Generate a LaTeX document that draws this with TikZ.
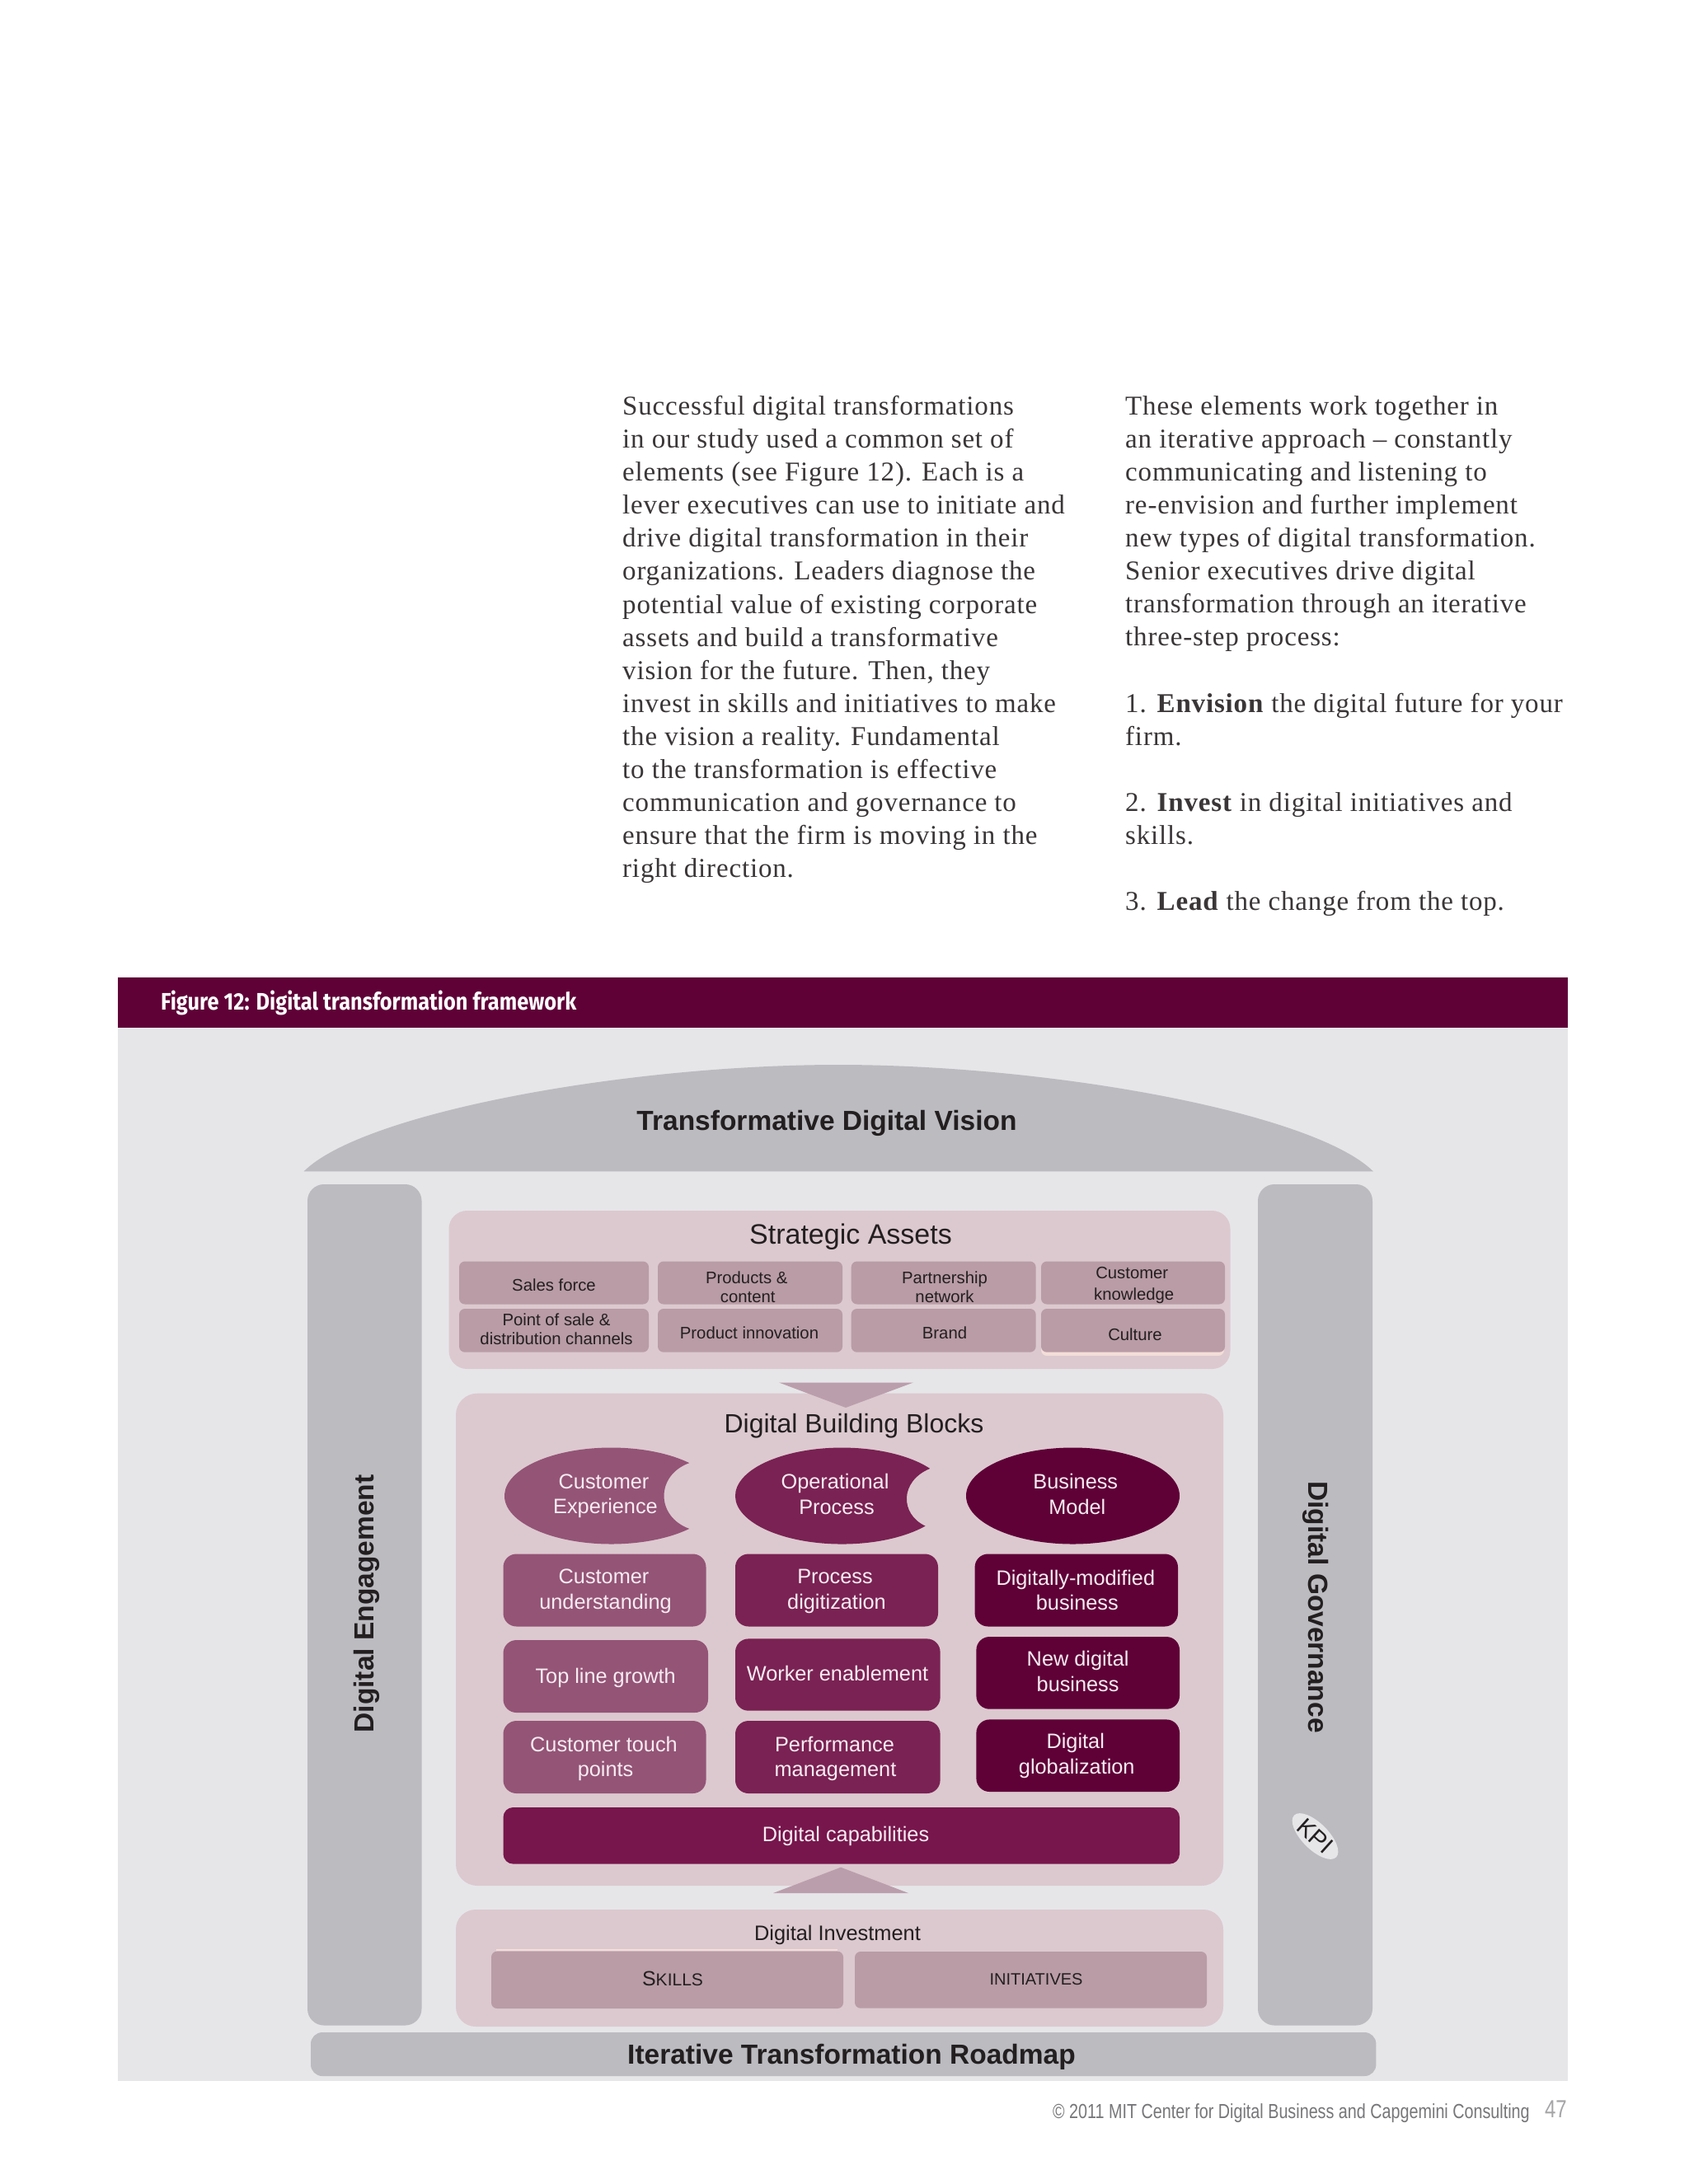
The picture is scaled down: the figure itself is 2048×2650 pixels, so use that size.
\documentclass[tikz,border=0pt]{standalone}
\usepackage{fontspec}
\setmainfont{Liberation Sans}
\newfontfamily\bodyf[LetterSpace=2.5]{Liberation Serif}
\newfontfamily\headf[FakeStretch=0.875]{Fira Sans}
\newfontfamily\footf[FakeStretch=0.8]{Liberation Sans}
\definecolor{hdr}{HTML}{5F0037}
\definecolor{bgg}{HTML}{E6E6E9}
\definecolor{bar}{HTML}{BBBBC0}
\definecolor{panel}{HTML}{DCC9CF}
\definecolor{sbox}{HTML}{B99CA6}
\definecolor{arrowc}{HTML}{BB9EAB}
\definecolor{cone}{HTML}{945476}
\definecolor{ctwo}{HTML}{7A2253}
\definecolor{cthree}{HTML}{5F0037}
\definecolor{ccap}{HTML}{77164C}
\definecolor{dk}{HTML}{231F20}
\definecolor{wt}{HTML}{F7ECF2}
\definecolor{bodyc}{HTML}{3A3638}
\definecolor{glow}{HTML}{F3DED9}
\definecolor{footc}{HTML}{77777A}
\definecolor{pagec}{HTML}{A5A5A8}
\newcommand{\sz}[2]{\fontsize{#1}{#2}\selectfont}
\newcommand{\nudge}[1]{\hspace*{#1pt}}
\tikzset{
  txt/.style={inner sep=0pt,align=center,text=dk},
  title/.style={txt,font=\bfseries\sz{33.5}{40}},
  smalltxt/.style={txt,font=\sz{20.3}{23}},
  blocktxt/.style={txt,text=wt,font=\sz{25.3}{30.5}},
  headtxt/.style={txt,font=\sz{32}{36}},
  para/.style={inner sep=0pt,align=left,anchor=north west,text=bodyc,font=\bodyf\sz{33}{40.1}},
  rb/.style={rounded corners=#1},
}
\begin{document}
\begin{tikzpicture}[x=1pt,y=-1pt]
\useasboundingbox (0,0) rectangle (2048,2650);
\fill[white] (0,0) rectangle (2048,2650);
% page text
\node[para] (colA) at (755,480) {Successful digital transformations\\
in our study used a common set of\\
elements (see Figure 12). Each is a\\
lever executives can use to initiate and\\
drive digital transformation in their\\
organizations. Leaders diagnose the\\
potential value of existing corporate\\
assets and build a transformative\\
vision for the future. Then, they\\
invest in skills and initiatives to make\\
the vision a reality. Fundamental\\
to the transformation is effective\\
communication and governance to\\
ensure that the firm is moving in the\\
right direction.};
\node[para] (colB) at (1365,480) {These elements work together in\\
an iterative approach – constantly\\
communicating and listening to\\
re-envision and further implement\\
new types of digital transformation.\\
Senior executives drive digital\\
transformation through an iterative\\
three-step process:\\
\mbox{}\\
1. \textbf{Envision} the digital future for your\\
firm.\\
\mbox{}\\
2. \textbf{Invest} in digital initiatives and\\
skills.\\
\mbox{}\\
3. \textbf{Lead} the change from the top.};
% figure frame
\fill[bgg] (143,1247) rectangle (1902,2525);
\fill[hdr] (143,1186) rectangle (1902,1247);
\node[inner sep=0pt,anchor=west,text=white,font=\headf\bfseries\sz{29}{30}] (figtitle) at (195,1217) {Figure 12: Digital transformation framework};
% dome
\fill[bar] (368.5,1421.4) .. controls (440,1350) and (760,1292) .. (1017,1292)
  .. controls (1274,1292) and (1594,1350) .. (1666,1421.4) -- cycle;
\node[title] (vision) at (1003,1363) {Transformative Digital Vision};
% side bars
\fill[bar,rb=20pt] (373,1437) rectangle (511.5,2457.5);
\fill[bar,rb=20pt] (1526,1437) rectangle (1665,2457.5);
\node[title,rotate=90] (engage) at (445,1946) {Digital Engagement};
\node[title,rotate=-90] (govern) at (1596,1950) {Digital Governance};
\fill[bgg,rotate around={-45:(1595.5,2228)}] (1595.5,2228) ellipse [x radius=36pt,y radius=16pt];
\node[txt,rotate=-42,font=\sz{29}{30}] (kpi) at (1595.5,2228) {KPI};
% strategic assets
\fill[panel,rb=22pt] (544.5,1469) rectangle (1492.5,1661);
\node[txt,font=\sz{34}{40}] (sa) at (1032,1501) {Strategic Assets};
\fill[sbox,rb=7pt] (557,1530.5) rectangle (787,1582.5);
\fill[sbox,rb=7pt] (798,1530.5) rectangle (1022,1582.5);
\fill[sbox,rb=7pt] (1032.7,1530.5) rectangle (1256.6,1582.5);
\fill[sbox,rb=7pt] (1263,1530.5) rectangle (1486,1582.5);
\fill[sbox,rb=7pt] (557,1588) rectangle (787,1640.7);
\fill[sbox,rb=7pt] (798,1588) rectangle (1022,1640.7);
\fill[sbox,rb=7pt] (1032.7,1588) rectangle (1256.6,1640.7);
\fill[glow,rb=7pt] (1263,1600) rectangle (1485,1645) ;
\fill[sbox,rb=7pt] (1263,1588) rectangle (1486,1640.7);
\node[smalltxt] (s1) at (672,1559) {Sales force};
\node[smalltxt] (s2) at (906.5,1561.5) {Products \&\nudge{1.5}\\\nudge{1.5}content};
\node[smalltxt] (s3) at (1146,1561.5) {Partnership\\network};
\node[smalltxt,font=\sz{20.3}{25.5}] (s4) at (1374.5,1559.5) {Customer\nudge{2.5}\\\nudge{2.5}knowledge};
\node[smalltxt] (s5) at (675,1613) {Point of sale \&\\distribution channels};
\node[smalltxt] (s6) at (909,1617) {Product innovation};
\node[smalltxt] (s7) at (1146,1617) {Brand};
\node[smalltxt] (s8) at (1377,1619) {Culture};
% building blocks
\fill[panel,rb=26pt] (553,1690.7) rectangle (1484,2288);
\fill[arrowc] (945,1677.5) -- (1108,1677.5) -- (1026,1708) -- cycle;
\node[headtxt] (bb) at (1036,1730) {Digital Building Blocks};
% ellipses
\fill[cone] (836.2,1775.1) arc[start angle=43,end angle=317,x radius=129.5pt,y radius=58.5pt]
  .. controls (795.3,1840) and (795.3,1790) .. cycle;
\fill[ctwo] (1128.2,1781.9) arc[start angle=34.5,end angle=321.3,x radius=129.5pt,y radius=58.5pt]
  .. controls (1091.5,1837) and (1091.5,1797) .. cycle;
\fill[cthree] (1301.5,1815) ellipse [x radius=129.5pt,y radius=58.5pt];
\node[blocktxt] (e1) at (733.5,1815.5) {Customer\nudge{2}\\\nudge{2}Experience};
\node[blocktxt] (e2) at (1014,1813) {Operational\nudge{2}\\\nudge{2}Process};
\node[blocktxt] (e3) at (1305.8,1813) {Business\nudge{2}\\\nudge{2}Model};
% rows
\fill[cone,rb=16pt] (610.5,1885.5) rectangle (856.5,1973.5);
\fill[cone,rb=16pt] (610.5,1990) rectangle (859,2078);
\fill[cone,rb=16pt] (610.5,2088) rectangle (856.5,2176);
\fill[ctwo,rb=16pt] (892,1885.5) rectangle (1138,1973.5);
\fill[ctwo,rb=16pt] (892,1988.4) rectangle (1140.6,2075.7);
\fill[ctwo,rb=16pt] (892,2088) rectangle (1140.6,2176);
\fill[cthree,rb=16pt] (1182.6,1885.5) rectangle (1429,1973.5);
\fill[cthree,rb=16pt] (1184.4,1986) rectangle (1431,2073.7);
\fill[cthree,rb=16pt] (1184.4,2086.4) rectangle (1431,2174);
\fill[ccap,rb=12pt] (610.5,2193) rectangle (1431,2261.6);
\node[blocktxt] (b1) at (733.5,1930.7) {Customer\nudge{2}\\\nudge{2}understanding};
\node[blocktxt] (b2) at (734.6,2036) {Top line growth};
\node[blocktxt] (b3) at (733.5,2134) {Customer touch\nudge{2}\\\nudge{2}points};
\node[blocktxt] (b4) at (1014,1930.7) {Process\nudge{2}\\\nudge{2}digitization};
\node[blocktxt] (b5) at (1016,2030) {Worker enablement};
\node[blocktxt] (b6) at (1013,2134) {Performance\nudge{1}\\\nudge{1}management};
\node[blocktxt] (b7) at (1305.8,1929.2) {Digitally-modified\nudge{2}\\\nudge{2}business};
\node[blocktxt] (b8) at (1307.6,2028) {New digital\\business};
\node[blocktxt] (b9) at (1305.5,2130.2) {Digital\nudge{1.5}\\\nudge{1.5}globalization};
\node[blocktxt] (cap) at (1026,2228) {Digital capabilities};
% investment
\fill[panel,rb=24pt] (553,2317) rectangle (1484,2459);
\fill[arrowc] (938,2297) -- (1102,2297) -- (1020,2265.7) -- cycle;
\node[txt,font=\sz{25.4}{30}] (di) at (1016,2347.7) {Digital Investment};
\fill[glow] (602,2365) rectangle (1016,2367);
\fill[sbox,rb=7pt] (596,2367.7) rectangle (1023,2437);
\fill[sbox,rb=7pt] (1037,2368) rectangle (1464,2436.7);
\node[txt,font=\sz{25}{30}] (skills) at (816,2400.7) {S{\sz{21}{30}KILLS}};
\node[txt,font=\sz{20}{30}] (init) at (1257,2401.7) {INITIATIVES};
% roadmap
\fill[bar,rb=14pt] (377,2466) rectangle (1669.4,2519);
\node[title] (road) at (1033,2496) {Iterative Transformation Roadmap};
% footer
\node[inner sep=0pt,anchor=east,text=footc,font=\footf\sz{24.7}{28}] (foot) at (1856,2564) {© 2011 MIT Center for Digital Business and Capgemini Consulting};
\node[inner sep=0pt,anchor=east,text=pagec,font=\footf\sz{30}{34}] (pg) at (1901,2559) {47};
\end{tikzpicture}
\end{document}
